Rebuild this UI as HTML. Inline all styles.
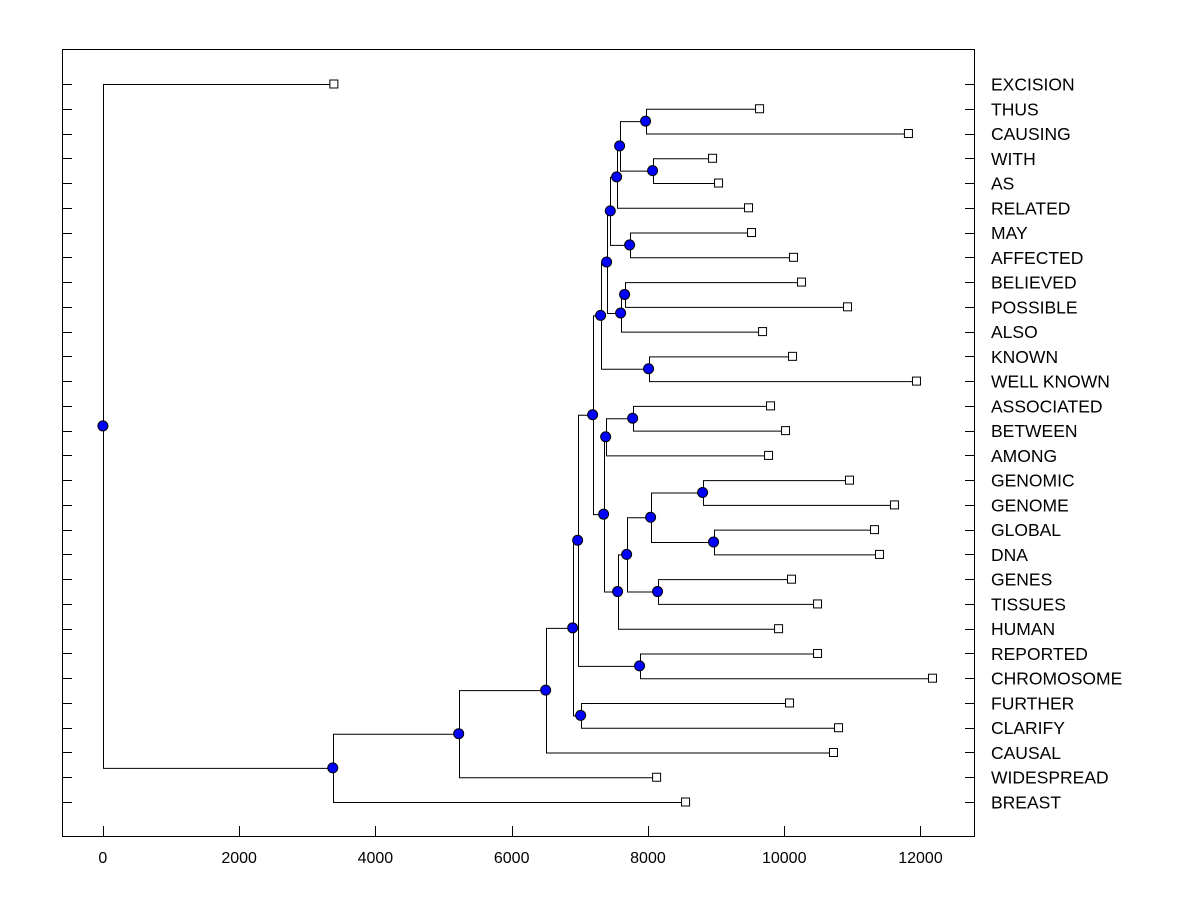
<!DOCTYPE html>
<html><head><meta charset="utf-8"><style>
html,body{margin:0;padding:0;background:#fff;}
svg{display:block;}
text{font-family:"Liberation Sans",Arial,sans-serif;fill:#000;}
</style></head><body>
<svg id="chart" width="1200" height="900" xmlns="http://www.w3.org/2000/svg">
<rect x="62.5" y="49.5" width="912" height="787" fill="none" stroke="#000" stroke-width="1"/>
<g id="g"></g>
</svg>
<script>
const labels = ["EXCISION","THUS","CAUSING","WITH","AS","RELATED","MAY","AFFECTED","BELIEVED","POSSIBLE","ALSO","KNOWN","WELL KNOWN","ASSOCIATED","BETWEEN","AMONG","GENOMIC","GENOME","GLOBAL","DNA","GENES","TISSUES","HUMAN","REPORTED","CHROMOSOME","FURTHER","CLARIFY","CAUSAL","WIDESPREAD","BREAST"];
const leafHeights = [3390,9638,11823,8948,9036,9476,9520,10136,10254,10929,9682,10122,11941,9799,10019,9770,10958,11618,11325,11398,10107,10489,9917,10489,12176,10078,10797,10723,8127,8552];
const mergeA = [1,3,30,32,6,33,8,36,35,11,38,13,41,16,18,43,20,45,47,42,40,23,50,25,52,54,55,56,0];
const mergeB = [2,4,31,5,7,34,9,10,37,12,39,14,15,17,19,44,21,46,22,48,49,24,51,26,53,27,28,29,57];
const mergeHeights = [7965,8068,7584,7540,7731,7447,7657,7599,7393,8009,7305,7775,7379,8802,8963,8039,8141,7687,7555,7349,7188,7877,6968,7012,6895,6499,5222,3374,0];
const xTicks = [0,2000,4000,6000,8000,10000,12000];

const NS="http://www.w3.org/2000/svg";
const g=document.getElementById('g');
const X0=-600,X1=12800,PL=62,PR=975;
const xs=v=>PL+(v-X0)/(X1-X0)*(PR-PL);
const ys=i=>84+i*(802-84)/29;
function mk(t,a){const e=document.createElementNS(NS,t);for(const k in a)e.setAttribute(k,a[k]);g.appendChild(e);return e;}

const nx=[],ny=[];
leafHeights.forEach((h,i)=>{nx.push(h);ny.push(ys(i));});
mergeHeights.forEach((h,k)=>{nx.push(h);ny.push((ny[mergeA[k]]+ny[mergeB[k]])/2);});

labels.forEach((l,i)=>{
  const y=Math.round(ys(i))+0.5;
  let t=mk('line',{x1:62,x2:72,y1:y,y2:y,stroke:'#000'});
  
  
  t=mk('line',{x1:965,x2:975,y1:y,y2:y,stroke:'#000'});
  
  
  const tx=mk('text',{x:991,y:ys(i)+6.5,'font-size':17.5});
  tx.textContent=l;
  
  
});
xTicks.forEach(v=>{
  const x=Math.round(xs(v))+0.5;
  const t=mk('line',{x1:x,x2:x,y1:826,y2:837,stroke:'#000'});
  
  
  const tx=mk('text',{x:xs(v),y:863,'font-size':16,'text-anchor':'middle'});
  tx.textContent=v;
  
  
});
mergeHeights.forEach((h,k)=>{
  const px=Math.round(xs(h))+0.5;
  const a=mergeA[k],b=mergeB[k];
  const p=mk('path',{d:`M${xs(nx[a])},${ny[a]+0.5}H${px}V${ny[b]+0.5}H${xs(nx[b])}`,fill:'none',stroke:'#000','stroke-width':1});
  
  
});
leafHeights.forEach((h,i)=>{
  const r=mk('rect',{x:xs(h)-4,y:ys(i)-4,width:8,height:8,fill:'#fff',stroke:'#000'});
  
  
});
mergeHeights.forEach((h,k)=>{
  const c=mk('circle',{cx:xs(h),cy:ny[30+k],r:5,fill:'#0000ff',stroke:'#000','stroke-width':1});
  
  
});
</script>
</body></html>
